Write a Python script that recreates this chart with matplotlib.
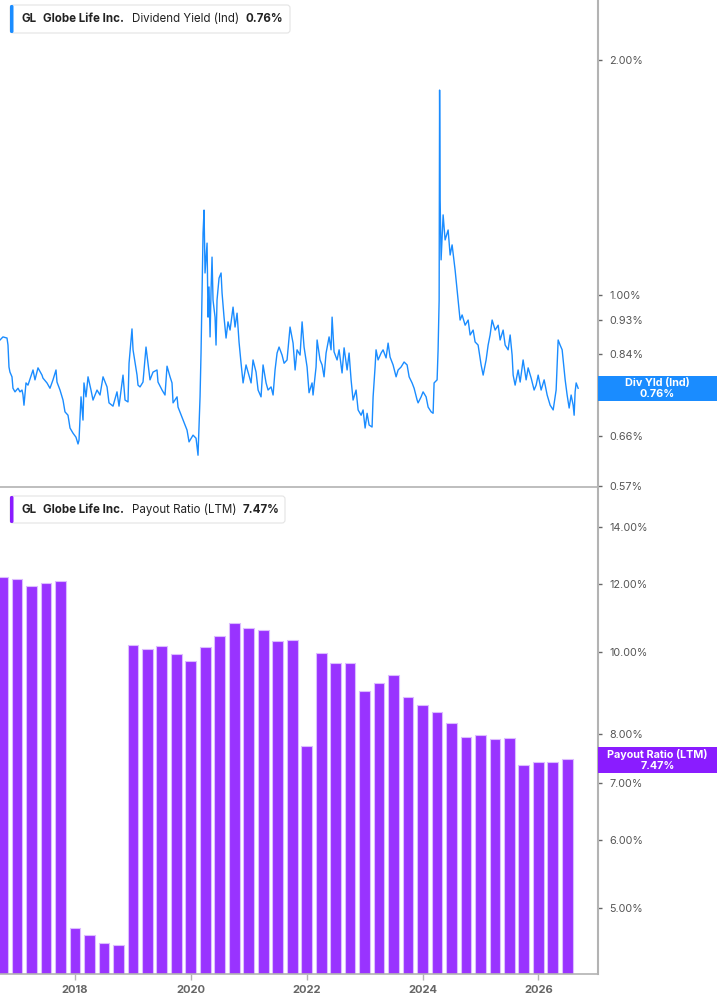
import numpy as np
import matplotlib
matplotlib.use("Agg")
import matplotlib.pyplot as plt
from matplotlib.patches import FancyBboxPatch, Rectangle
from matplotlib.ticker import FixedLocator, FixedFormatter, NullLocator

plt.rcParams['font.family'] = ['Inter', 'DejaVu Sans']

# dividend yield (Ind), %, decimal years
div_t = [2016.705, 2016.756, 2016.826, 2016.843, 2016.860, 2016.877, 2016.912, 2016.929, 2016.964, 2017.016,
         2017.050, 2017.085, 2017.102, 2017.119, 2017.154, 2017.188, 2017.223, 2017.275, 2017.309, 2017.361,
         2017.430, 2017.447, 2017.516, 2017.568, 2017.620, 2017.672, 2017.689, 2017.741, 2017.793, 2017.827,
         2017.879, 2017.914, 2017.965, 2018.017, 2018.052, 2018.069, 2018.104, 2018.138, 2018.155, 2018.190,
         2018.225, 2018.276, 2018.311, 2018.380, 2018.432, 2018.484, 2018.553, 2018.587, 2018.656, 2018.725,
         2018.760, 2018.829, 2018.864, 2018.915, 2018.933, 2018.984, 2019.002, 2019.071, 2019.088, 2019.123,
         2019.174, 2019.226, 2019.261, 2019.295, 2019.347, 2019.416, 2019.433, 2019.503, 2019.554, 2019.589,
         2019.641, 2019.675, 2019.693, 2019.762, 2019.779, 2019.848, 2019.900, 2019.934, 2019.969, 2020.038,
         2020.090, 2020.124, 2020.159, 2020.176, 2020.193, 2020.211, 2020.228, 2020.245, 2020.280, 2020.297,
         2020.314, 2020.332, 2020.349, 2020.366, 2020.383, 2020.418, 2020.435, 2020.452, 2020.487, 2020.522,
         2020.539, 2020.573, 2020.608, 2020.642, 2020.677, 2020.729, 2020.763, 2020.798, 2020.832, 2020.867,
         2020.902, 2020.953, 2020.988, 2021.040, 2021.074, 2021.126, 2021.161, 2021.212, 2021.247, 2021.299,
         2021.333, 2021.385, 2021.420, 2021.454, 2021.489, 2021.523, 2021.575, 2021.610, 2021.661, 2021.713,
         2021.765, 2021.800, 2021.834, 2021.886, 2021.921, 2021.955, 2022.007, 2022.041, 2022.093, 2022.110,
         2022.162, 2022.180, 2022.231, 2022.266, 2022.300, 2022.335, 2022.387, 2022.421, 2022.439, 2022.473,
         2022.525, 2022.560, 2022.611, 2022.646, 2022.698, 2022.732, 2022.767, 2022.801, 2022.853, 2022.888,
         2022.940, 2022.974, 2023.009, 2023.043, 2023.078, 2023.129, 2023.147, 2023.181, 2023.198, 2023.233,
         2023.285, 2023.319, 2023.371, 2023.406, 2023.440, 2023.492, 2023.544, 2023.579, 2023.630, 2023.682,
         2023.734, 2023.769, 2023.820, 2023.855, 2023.907, 2023.924, 2023.976, 2024.010, 2024.062, 2024.097,
         2024.149, 2024.183, 2024.200, 2024.252, 2024.269, 2024.287, 2024.295, 2024.304, 2024.321, 2024.356,
         2024.390, 2024.442, 2024.477, 2024.511, 2024.563, 2024.615, 2024.649, 2024.684, 2024.736, 2024.788,
         2024.822, 2024.874, 2024.908, 2024.960, 2025.012, 2025.047, 2025.098, 2025.133, 2025.167, 2025.202,
         2025.254, 2025.306, 2025.340, 2025.392, 2025.427, 2025.478, 2025.513, 2025.547, 2025.565, 2025.599,
         2025.651, 2025.686, 2025.737, 2025.789, 2025.824, 2025.876, 2025.927, 2025.962, 2025.997, 2026.048,
         2026.100, 2026.152, 2026.204, 2026.256, 2026.307, 2026.342, 2026.376, 2026.411, 2026.463, 2026.497,
         2026.532, 2026.566, 2026.601, 2026.618, 2026.635, 2026.653, 2026.687]
div_v = [0.876, 0.884, 0.881, 0.863, 0.809, 0.797, 0.786, 0.760, 0.752, 0.760,
         0.752, 0.756, 0.745, 0.723, 0.772, 0.767, 0.781, 0.802, 0.779, 0.807,
         0.790, 0.783, 0.772, 0.760, 0.779, 0.802, 0.774, 0.756, 0.734, 0.709,
         0.702, 0.676, 0.666, 0.658, 0.645, 0.652, 0.741, 0.692, 0.772, 0.741,
         0.786, 0.756, 0.734, 0.756, 0.745, 0.786, 0.763, 0.728, 0.721, 0.752,
         0.721, 0.790, 0.734, 0.730, 0.818, 0.905, 0.851, 0.790, 0.767, 0.763,
         0.774, 0.858, 0.818, 0.779, 0.797, 0.802, 0.774, 0.756, 0.745, 0.811,
         0.786, 0.772, 0.728, 0.741, 0.719, 0.698, 0.682, 0.672, 0.649, 0.662,
         0.656, 0.624, 0.741, 0.843, 1.006, 1.200, 1.284, 1.067, 1.165, 0.937,
         1.024, 0.884, 1.015, 1.118, 0.985, 0.937, 0.863, 0.985, 1.051, 1.067,
         1.006, 0.937, 0.881, 0.924, 0.902, 0.965, 0.910, 0.948, 0.871, 0.818,
         0.772, 0.814, 0.797, 0.772, 0.826, 0.797, 0.756, 0.741, 0.814, 0.772,
         0.756, 0.763, 0.745, 0.802, 0.843, 0.858, 0.838, 0.818, 0.826, 0.910,
         0.868, 0.802, 0.851, 0.838, 0.924, 0.858, 0.809, 0.750, 0.772, 0.745,
         0.809, 0.876, 0.826, 0.814, 0.786, 0.843, 0.884, 0.851, 0.937, 0.846,
         0.826, 0.851, 0.795, 0.856, 0.802, 0.843, 0.779, 0.734, 0.756, 0.713,
         0.702, 0.713, 0.676, 0.706, 0.682, 0.678, 0.741, 0.809, 0.851, 0.826,
         0.843, 0.851, 0.831, 0.868, 0.833, 0.814, 0.786, 0.802, 0.809, 0.821,
         0.814, 0.786, 0.772, 0.760, 0.734, 0.728, 0.741, 0.752, 0.741, 0.719,
         0.709, 0.706, 0.772, 0.779, 0.851, 0.985, 1.828, 1.323, 1.109, 1.266,
         1.176, 1.211, 1.125, 1.159, 1.076, 0.985, 0.929, 0.943, 0.915, 0.929,
         0.889, 0.902, 0.871, 0.863, 0.814, 0.790, 0.826, 0.863, 0.889, 0.929,
         0.902, 0.915, 0.876, 0.902, 0.863, 0.851, 0.889, 0.838, 0.790, 0.767,
         0.802, 0.774, 0.826, 0.779, 0.807, 0.783, 0.756, 0.767, 0.790, 0.756,
         0.779, 0.745, 0.723, 0.713, 0.756, 0.876, 0.863, 0.851, 0.779, 0.745,
         0.717, 0.745, 0.723, 0.702, 0.752, 0.772, 0.760]

# payout ratio (LTM), %, one bar per quarter from Q3 2016
payout_first_q = 2016.75
payout_v = [12.23, 12.16, 11.95, 12.03, 12.11, 4.73, 4.65, 4.55, 4.52, 10.17,
            10.07, 10.14, 9.93, 9.74, 10.12, 10.44, 10.80, 10.67, 10.60, 10.30,
            10.33, 7.75, 9.96, 9.70, 9.69, 9.00, 9.19, 9.39, 8.84, 8.66,
            8.49, 8.24, 7.93, 7.98, 7.89, 7.91, 7.35, 7.41, 7.41, 7.47]
payout_t = payout_first_q + 0.25 * np.arange(len(payout_v))

div_ticks = [0.57, 0.66, 0.75, 0.84, 0.93, 1.00, 2.00]
pay_ticks = [5.0, 6.0, 7.0, 8.0, 10.0, 12.0, 14.0]
year_ticks = [2018, 2020, 2022, 2024, 2026]

BLUE = '#1a8cff'
PURPLE = '#9933ff'
PURPLE_DARK = '#8a1cff'
GRID = '#b3b3b3'
TXT = '#555555'

W, H = 717, 1005
fig = plt.figure(figsize=(W / 100, H / 100), dpi=100)
fig.patch.set_facecolor('white')

right = 598 / W
ax1 = fig.add_axes([0, 1 - 486.7 / H, right, 486.7 / H])
ax2 = fig.add_axes([0, 1 - 974 / H, right, (974 - 488) / H])

xlim = (2016.705, 2027.03)

# ---- top: dividend yield line
ax1.plot(div_t, div_v, color=BLUE, lw=1.0)
ax1.set_yscale('log')
ax1.set_ylim(0.5688, 2.383)
ax1.set_xlim(*xlim)

# ---- bottom: payout ratio bars
base = 1.0
ax2.bar(payout_t, np.array(payout_v) - base, bottom=base, width=0.186,
        color=PURPLE, edgecolor='#dcbcff', linewidth=0.8)
ax2.set_yscale('log')
ax2.set_ylim(4.18, 15.57)
ax2.set_xlim(*xlim)

for ax, ticks in ((ax1, div_ticks), (ax2, pay_ticks)):
    ax.yaxis.tick_right()
    ax.yaxis.set_major_locator(FixedLocator(ticks))
    ax.yaxis.set_major_formatter(FixedFormatter(['%.2f%%' % t for t in ticks]))
    ax.yaxis.set_minor_locator(NullLocator())
    ax.tick_params(axis='y', which='major', length=3, width=1, color='#666666',
                   labelsize=7.8, labelcolor=TXT, pad=5)
    for s in ('top', 'left'):
        ax.spines[s].set_visible(False)
    ax.spines['right'].set_color(GRID)
    ax.spines['right'].set_linewidth(1.5)
    ax.spines['bottom'].set_color(GRID)
    ax.spines['bottom'].set_linewidth(1.2)
    ax.set_facecolor('none')

ax1.set_xticks([])
ax2.set_xticks(year_ticks)
ax2.set_xticklabels([str(y) for y in year_ticks])
ax2.xaxis.set_minor_locator(NullLocator())
ax2.tick_params(axis='x', length=4, width=1, color=GRID, labelsize=8,
                labelcolor='#666666', pad=4)
for lab in ax2.get_xticklabels():
    lab.set_fontweight('bold')

# ---- overlay in pixel coordinates for the legend boxes and value tags
ov = fig.add_axes([0, 0, 1, 1], zorder=10)
ov.set_xlim(0, W)
ov.set_ylim(H, 0)
ov.axis('off')


def legend_box(y0, h, w, color, parts):
    ov.add_patch(FancyBboxPatch((10, y0), w, h, boxstyle='round,pad=0,rounding_size=3',
                                facecolor='white', edgecolor='#e4e4e4', lw=0.8))
    ov.add_patch(FancyBboxPatch((10, y0), 3.5, h, boxstyle='round,pad=0,rounding_size=1.5',
                                facecolor=color, edgecolor='none'))
    yc = y0 + h / 2
    prev = None
    for txt, weight, gap in parts:
        if prev is None:
            prev = ov.text(21, yc, txt, fontsize=8.3, fontweight=weight,
                           color='#222222', va='center', ha='left')
        else:
            prev = ov.annotate(txt, xy=(1, 0.5), xycoords=prev, xytext=(gap, 0),
                               textcoords='offset points', fontsize=8.3,
                               fontweight=weight, color='#222222', va='center', ha='left')


legend_box(5, 28, 280, BLUE, [('GL', 'bold', 0), ('Globe Life Inc.', 'bold', 5.2),
                               ('Dividend Yield (Ind)', 'normal', 5.2), ('0.76%', 'bold', 5.0)])
legend_box(496, 27, 275, PURPLE_DARK, [('GL', 'bold', 0), ('Globe Life Inc.', 'bold', 5.2),
                                       ('Payout Ratio (LTM)', 'normal', 5.2), ('7.47%', 'bold', 5.0)])


def value_tag(y0, y1, color, line1, line2):
    ov.add_patch(Rectangle((598, y0), W - 598, y1 - y0, facecolor=color, edgecolor='none'))
    xc = 598 + (W - 598) / 2
    ov.text(xc, y0 + (y1 - y0) * 0.3, line1, color='white', fontsize=7.8,
            fontweight='bold', ha='center', va='center')
    ov.text(xc, y0 + (y1 - y0) * 0.74, line2, color='white', fontsize=7.8,
            fontweight='bold', ha='center', va='center')


value_tag(375.5, 400.5, BLUE, 'Div Yld (Ind)', '0.76%')
value_tag(747, 772.5, PURPLE_DARK, 'Payout Ratio (LTM)', '7.47%')

fig.savefig('out.png', dpi=100, facecolor='white')
